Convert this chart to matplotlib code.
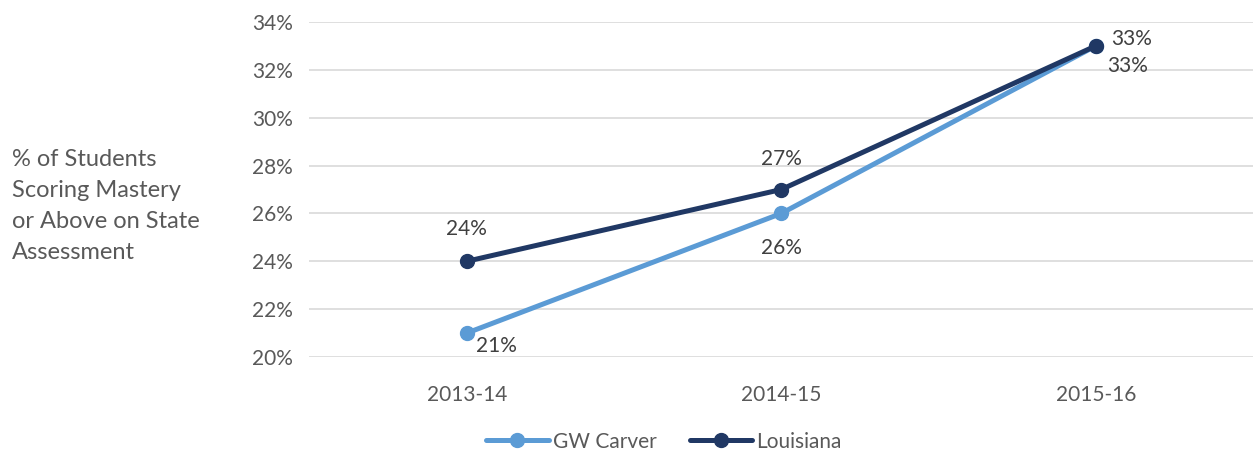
import matplotlib.pyplot as plt
from matplotlib.ticker import PercentFormatter

years = ["2013-14", "2014-15", "2015-16"]
gw_carver = [21, 26, 33]
louisiana = [24, 27, 33]
y_ticks = [20, 22, 24, 26, 28, 30, 32, 34]

plt.rcParams['font.family'] = ['Lato', 'DejaVu Sans']
text_color = '#404040'
tick_color = '#595959'
light_blue = '#5B9BD5'
navy = '#203864'

fig = plt.figure(figsize=(12.53, 4.53), dpi=100)
ax = fig.add_axes([0.247, 0.2119, 0.753, 0.7395])

x = range(len(years))
ax.plot(x, gw_carver, color=light_blue, lw=3.6, marker='o', ms=10,
        label='GW Carver', solid_capstyle='round', zorder=3)
ax.plot(x, louisiana, color=navy, lw=3.6, marker='o', ms=10,
        label='Louisiana', solid_capstyle='round', zorder=4)

# data labels
lab = dict(fontsize=15, color=text_color)
ax.annotate(f"{louisiana[0]}%", (0, louisiana[0]), xytext=(0, 16),
            textcoords='offset points', ha='center', va='bottom', **lab)
ax.annotate(f"{gw_carver[0]}%", (0, gw_carver[0]), xytext=(7, -2),
            textcoords='offset points', ha='left', va='top', **lab)
ax.annotate(f"{louisiana[1]}%", (1, louisiana[1]), xytext=(0, 15),
            textcoords='offset points', ha='center', va='bottom', **lab)
ax.annotate(f"{gw_carver[1]}%", (1, gw_carver[1]), xytext=(0, -18),
            textcoords='offset points', ha='center', va='top', **lab)
ax.annotate(f"{louisiana[2]}%", (2, louisiana[2]), xytext=(11, -2),
            textcoords='offset points', ha='left', va='bottom', **lab)
ax.annotate(f"{gw_carver[2]}%", (2, gw_carver[2]), xytext=(8, -7),
            textcoords='offset points', ha='left', va='top', **lab)

ax.set_xlim(-0.5, 2.5)
ax.set_ylim(20, 34)
ax.set_xticks(list(x))
ax.set_xticklabels(years)
ax.set_yticks(y_ticks)
ax.yaxis.set_major_formatter(PercentFormatter(decimals=0))
ax.tick_params(length=0, labelsize=15, labelcolor=tick_color)
ax.tick_params(axis='x', pad=20)
ax.tick_params(axis='y', pad=12)
ax.grid(axis='y', color='#D9D9D9', lw=1.2)
ax.set_axisbelow(True)
for s in ax.spines.values():
    s.set_visible(False)

fig.text(0.0096, 0.545, "% of Students\nScoring Mastery\nor Above on State\nAssessment",
         ha='left', va='center', fontsize=17, color=tick_color, linespacing=1.6)

ax.legend(loc='center', bbox_to_anchor=(0.53, 0.025), bbox_transform=fig.transFigure,
          ncol=2, frameon=False, fontsize=15, labelcolor=tick_color,
          handlelength=3.0, columnspacing=1.6, handletextpad=0.2)

fig.savefig('out.png', dpi=100, facecolor='white')
